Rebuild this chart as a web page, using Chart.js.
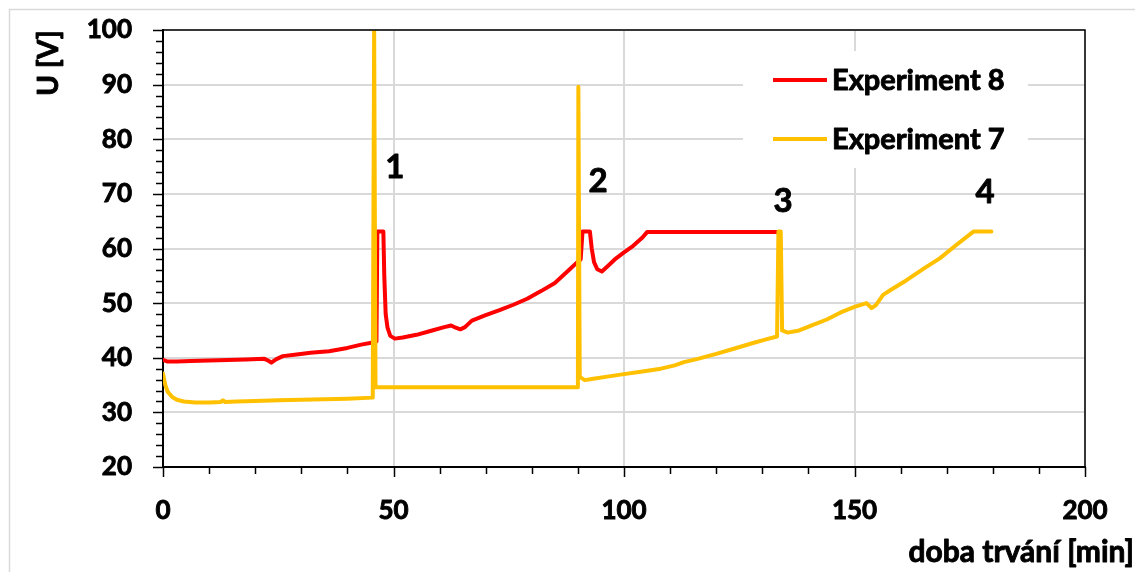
<!DOCTYPE html>
<html>
<head>
<meta charset="utf-8">
<script src="https://cdn.jsdelivr.net/npm/chart.js@4/dist/chart.umd.min.js"></script>
<style>
  html, body { margin: 0; padding: 0; background: #ffffff; }
  #wrap { width: 1135px; height: 572px; position: relative; }
</style>
</head>
<body>
<div id="wrap"><canvas id="c" width="1135" height="572"></canvas></div>
<script>
// Experiment 8 (red): time [min] and voltage [V]
const exp8Time = [0, 1, 3, 6, 10, 14, 18, 22, 23, 23.5, 24.5, 26, 29, 32, 36, 40, 43, 45.5, 46.3,
  46.5, 47.8, 48.0, 48.3, 48.7, 49.3, 50.3, 52, 55, 58, 61, 62.5, 63.5, 64.5, 65.5, 67, 70, 73, 76,
  79, 82, 85, 88, 90, 90.6, 91.0, 92.6, 93.0, 93.5, 94.2, 95.2, 96.5, 98, 100, 102, 104, 105, 133.8];
const exp8Voltage = [39.6, 39.3, 39.3, 39.4, 39.5, 39.6, 39.7, 39.8, 39.4, 39.1, 39.7, 40.3, 40.6, 40.9, 41.2, 41.8, 42.4, 42.8, 43.0,
  63.1, 63.1, 55.0, 48.0, 45.5, 44.0, 43.5, 43.7, 44.2, 44.9, 45.6, 45.9, 45.5, 45.2, 45.6, 46.8, 47.8, 48.7, 49.7,
  50.8, 52.2, 53.7, 56.0, 57.6, 58.0, 63.1, 63.1, 60.0, 57.5, 56.2, 55.8, 56.8, 58.0, 59.3, 60.5, 62.0, 63.0, 63.0];

// Experiment 7 (yellow): time [min] and voltage [V]
const exp7Time = [0, 0.5, 1, 2, 3, 4.5, 7, 10, 12.5, 13, 13.5, 16, 20, 25, 30, 35, 40, 45.5,
  45.8, 46.1, 90.0, 90.1, 90.4, 91.5, 93, 96, 100, 104, 108, 111, 113, 116, 120, 124, 128, 131, 133.2,
  133.5, 134.0, 134.3, 135.5, 138, 141, 144, 147, 150, 152.6, 153.7, 154.6, 156.2, 158, 161.3, 165,
  168.5, 172, 175.8, 179.7];
const exp7Voltage = [37.1, 35.0, 33.8, 32.8, 32.3, 32.0, 31.8, 31.8, 31.9, 32.2, 31.9, 32.0, 32.1, 32.2, 32.3, 32.4, 32.5, 32.7,
  100, 34.6, 34.6, 89.6, 36.5, 35.9, 36.1, 36.5, 37.0, 37.5, 38.0, 38.6, 39.2, 39.8, 40.7, 41.7, 42.7, 43.4, 43.9,
  63.1, 63.1, 45.0, 44.6, 45.0, 46.0, 47.0, 48.3, 49.3, 50.0, 49.1, 49.6, 51.5, 52.5, 54.2, 56.3,
  58.2, 60.6, 63.1, 63.1];

// Numbered phase markers placed in data coordinates
const markerLabels = ['1', '2', '3', '4'];
const markerTimes = [50.3, 94.4, 134.5, 178.3];
const markerVoltages = [74.9, 72.2, 68.7, 70.2];

// Axis ranges and tick steps
const xMin = 0, xMax = 200, xMajor = 50, xMinor = 10;
const yMin = 20, yMax = 100, yMajor = 10, yMinor = 2;

const seriesNames = ['Experiment 8', 'Experiment 7'];
const seriesColors = ['#ff0000', '#ffc000'];

const FONT = 'Lato, "Open Sans", "DejaVu Sans", sans-serif';
const WEIGHT = 'bold';
const TEXT_STROKE = 0.9;

function toPoints(xs, ys) { return xs.map((x, i) => ({ x: x, y: ys[i] })); }

// heavy text: fill plus a thin outline of the same colour
function heavyText(ctx, text, x, y) {
  ctx.fillText(text, x, y);
  ctx.lineWidth = TEXT_STROKE;
  ctx.strokeStyle = ctx.fillStyle;
  ctx.lineJoin = 'round';
  ctx.strokeText(text, x, y);
}

const decorations = {
  id: 'decorations',
  beforeDraw(chart) {
    const ctx = chart.ctx;
    ctx.save();
    ctx.fillStyle = '#ffffff';
    ctx.fillRect(0, 0, chart.width, chart.height);
    // outer frame (left and top edges)
    ctx.strokeStyle = '#d9d9d9';
    ctx.lineWidth = 1.5;
    ctx.beginPath();
    ctx.moveTo(9.5, chart.height);
    ctx.lineTo(9.5, 9.5);
    ctx.lineTo(chart.width, 9.5);
    ctx.stroke();
    ctx.restore();
  },
  afterDatasetsDraw(chart) {
    const ctx = chart.ctx;
    const a = chart.chartArea;
    const xs = chart.scales.x, ys = chart.scales.y;
    ctx.save();

    // top and right edges of the plot area
    ctx.strokeStyle = '#000000';
    ctx.lineWidth = 1.5;
    ctx.beginPath();
    ctx.moveTo(a.left, a.top);
    ctx.lineTo(a.right, a.top);
    ctx.lineTo(a.right, a.bottom);
    ctx.stroke();

    // tick marks: y axis (major and minor, outward)
    ctx.lineWidth = 1.5;
    for (let v = yMin; v <= yMax + 1e-9; v += yMinor) {
      const py = Math.round(ys.getPixelForValue(v)) + 0.5;
      const isMajor = Math.abs(v % yMajor) < 1e-9;
      ctx.beginPath();
      ctx.moveTo(a.left - (isMajor ? 10 : 7), py);
      ctx.lineTo(a.left, py);
      ctx.stroke();
    }
    // tick marks: x axis (major and minor, outward)
    for (let v = xMin; v <= xMax + 1e-9; v += xMinor) {
      const px = Math.round(xs.getPixelForValue(v)) + 0.5;
      const isMajor = Math.abs(v % xMajor) < 1e-9;
      ctx.beginPath();
      ctx.moveTo(px, a.bottom);
      ctx.lineTo(px, a.bottom + (isMajor ? 10 : 7));
      ctx.stroke();
    }

    // legend inside the plot area
    ctx.fillStyle = '#ffffff';
    ctx.fillRect(743, 51, 285, 117);
    const legendRows = [80, 139];
    ctx.font = WEIGHT + ' 29px ' + FONT;
    ctx.textAlign = 'left';
    ctx.textBaseline = 'middle';
    seriesNames.forEach((name, i) => {
      ctx.strokeStyle = seriesColors[i];
      ctx.lineWidth = 4;
      ctx.lineCap = 'butt';
      ctx.beginPath();
      ctx.moveTo(773, legendRows[i]);
      ctx.lineTo(827, legendRows[i]);
      ctx.stroke();
      ctx.fillStyle = '#000000';
      heavyText(ctx, name, 832, legendRows[i] + 1);
    });

    // numbered markers
    ctx.font = WEIGHT + ' 33px ' + FONT;
    ctx.textAlign = 'center';
    ctx.textBaseline = 'middle';
    ctx.fillStyle = '#000000';
    markerLabels.forEach((t, i) => {
      heavyText(ctx, t, xs.getPixelForValue(markerTimes[i]), ys.getPixelForValue(markerVoltages[i]));
    });

    // axis titles
    ctx.font = WEIGHT + ' 30px ' + FONT;
    ctx.textAlign = 'right';
    ctx.textBaseline = 'alphabetic';
    heavyText(ctx, 'doba trvání [min]', 1134, 562);

    ctx.font = WEIGHT + ' 28px ' + FONT;
    ctx.translate(49, 63);
    ctx.rotate(-Math.PI / 2);
    ctx.textAlign = 'center';
    ctx.textBaseline = 'middle';
    heavyText(ctx, 'U [V]', 0, 0);

    ctx.restore();
  }
};

new Chart(document.getElementById('c'), {
  type: 'line',
  data: {
    datasets: [
      {
        label: seriesNames[0],
        data: toPoints(exp8Time, exp8Voltage),
        borderColor: seriesColors[0],
        backgroundColor: seriesColors[0],
        borderWidth: 4,
        pointRadius: 0,
        tension: 0,
        borderJoinStyle: 'round',
        borderCapStyle: 'round',
        order: 1
      },
      {
        label: seriesNames[1],
        data: toPoints(exp7Time, exp7Voltage),
        borderColor: seriesColors[1],
        backgroundColor: seriesColors[1],
        borderWidth: 4,
        pointRadius: 0,
        tension: 0,
        borderJoinStyle: 'round',
        borderCapStyle: 'round',
        order: 0
      }
    ]
  },
  options: {
    responsive: false,
    animation: false,
    events: [],
    layout: { padding: { left: 0, right: 50, top: 30, bottom: 0 } },
    plugins: { legend: { display: false }, tooltip: { enabled: false } },
    scales: {
      x: {
        type: 'linear',
        min: xMin, max: xMax,
        afterFit(s) { s.height = 105; s.paddingLeft = 0; s.paddingRight = 0; },
        ticks: {
          stepSize: xMajor,
          padding: 28,
          color: '#000000',
          textStrokeColor: '#000000',
          textStrokeWidth: TEXT_STROKE,
          font: { family: FONT, size: 26, weight: WEIGHT }
        },
        grid: { color: '#d9d9d9', lineWidth: 2, drawTicks: false },
        border: { display: true, color: '#000000', width: 2 }
      },
      y: {
        type: 'linear',
        min: yMin, max: yMax,
        afterFit(s) { s.width = 163; s.paddingTop = 0; s.paddingBottom = 0; },
        ticks: {
          stepSize: yMajor,
          padding: 31,
          color: '#000000',
          textStrokeColor: '#000000',
          textStrokeWidth: TEXT_STROKE,
          font: { family: FONT, size: 26, weight: WEIGHT }
        },
        grid: { color: '#d9d9d9', lineWidth: 2, drawTicks: false },
        border: { display: true, color: '#000000', width: 2 }
      }
    }
  },
  plugins: [decorations]
});
</script>
</body>
</html>
